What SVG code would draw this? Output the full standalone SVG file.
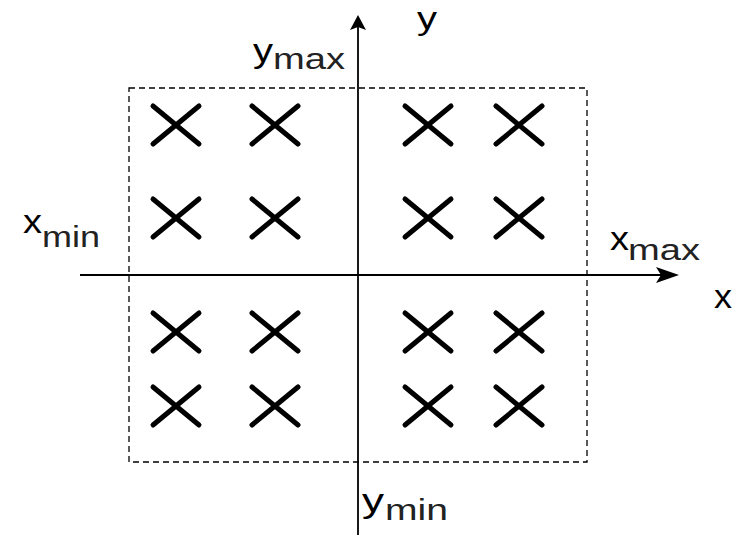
<svg xmlns="http://www.w3.org/2000/svg" xmlns:xlink="http://www.w3.org/1999/xlink" width="732" height="539" viewBox="0 0 732 539">
<style>
.lbl{font-family:"Liberation Sans",Arial,sans-serif;fill:#000;}
.main{font-size:34px;}
.sub{font-size:29px;fill:#222;}
.axis{stroke:#000;stroke-width:1.8;fill:none;}
.box{stroke:#000;stroke-width:1.3;fill:none;stroke-dasharray:6 4;}
.cross{stroke:#000;stroke-width:5;stroke-linecap:round;fill:none;}
</style>
<defs>
<path id="x" class="cross" d="M-23,-19 L23,19 M-23,19 L23,-19"/>
</defs>
<rect width="732" height="539" fill="#fff"/>
<g id="region">
<rect class="box" x="129" y="88" width="458" height="374"/>
</g>
<g id="connectors">
<line class="axis" x1="358" y1="27" x2="358" y2="535"/>
<path d="M358,15 L366,30 L358,27 L350,30 Z" fill="#000"/>
<line class="axis" x1="80" y1="275" x2="664" y2="275"/>
<path d="M679,275 L656,267 L661,275 L656,283 Z" fill="#000"/>
</g>
<g id="points">
<g id="p1"><use xlink:href="#x" x="176" y="125"/></g>
<g id="p2"><use xlink:href="#x" x="275" y="125"/></g>
<g id="p3"><use xlink:href="#x" x="428" y="125"/></g>
<g id="p4"><use xlink:href="#x" x="519" y="125"/></g>
<g id="p5"><use xlink:href="#x" x="176" y="218"/></g>
<g id="p6"><use xlink:href="#x" x="275" y="218"/></g>
<g id="p7"><use xlink:href="#x" x="428" y="218"/></g>
<g id="p8"><use xlink:href="#x" x="519" y="218"/></g>
<g id="p9"><use xlink:href="#x" x="176" y="332"/></g>
<g id="p10"><use xlink:href="#x" x="275" y="332"/></g>
<g id="p11"><use xlink:href="#x" x="428" y="332"/></g>
<g id="p12"><use xlink:href="#x" x="519" y="332"/></g>
<g id="p13"><use xlink:href="#x" x="176" y="406"/></g>
<g id="p14"><use xlink:href="#x" x="275" y="406"/></g>
<g id="p15"><use xlink:href="#x" x="428" y="406"/></g>
<g id="p16"><use xlink:href="#x" x="519" y="406"/></g>
</g>
<g id="labels">
<g id="label-y"><text class="lbl" style="font-size:32px" x="417" y="29" textLength="20" lengthAdjust="spacingAndGlyphs">y</text></g>
<g id="label-ymax"><text class="lbl main" x="253" y="62" textLength="20" lengthAdjust="spacingAndGlyphs">y</text><text class="lbl sub" x="273" y="69" textLength="72" lengthAdjust="spacingAndGlyphs">max</text></g>
<g id="label-xmin"><text class="lbl main" x="23" y="233" textLength="19" lengthAdjust="spacingAndGlyphs">x</text><text class="lbl sub" x="42" y="247" textLength="58" lengthAdjust="spacingAndGlyphs">min</text></g>
<g id="label-xmax"><text class="lbl main" x="610" y="250" textLength="19" lengthAdjust="spacingAndGlyphs">x</text><text class="lbl sub" x="628" y="260" textLength="72" lengthAdjust="spacingAndGlyphs">max</text></g>
<g id="label-x"><text class="lbl main" x="714" y="308" textLength="18" lengthAdjust="spacingAndGlyphs">x</text></g>
<g id="label-ymin"><text class="lbl main" x="362" y="512" textLength="22" lengthAdjust="spacingAndGlyphs">y</text><text class="lbl sub" x="385" y="520" textLength="63" lengthAdjust="spacingAndGlyphs">min</text></g>
</g>
</svg>
